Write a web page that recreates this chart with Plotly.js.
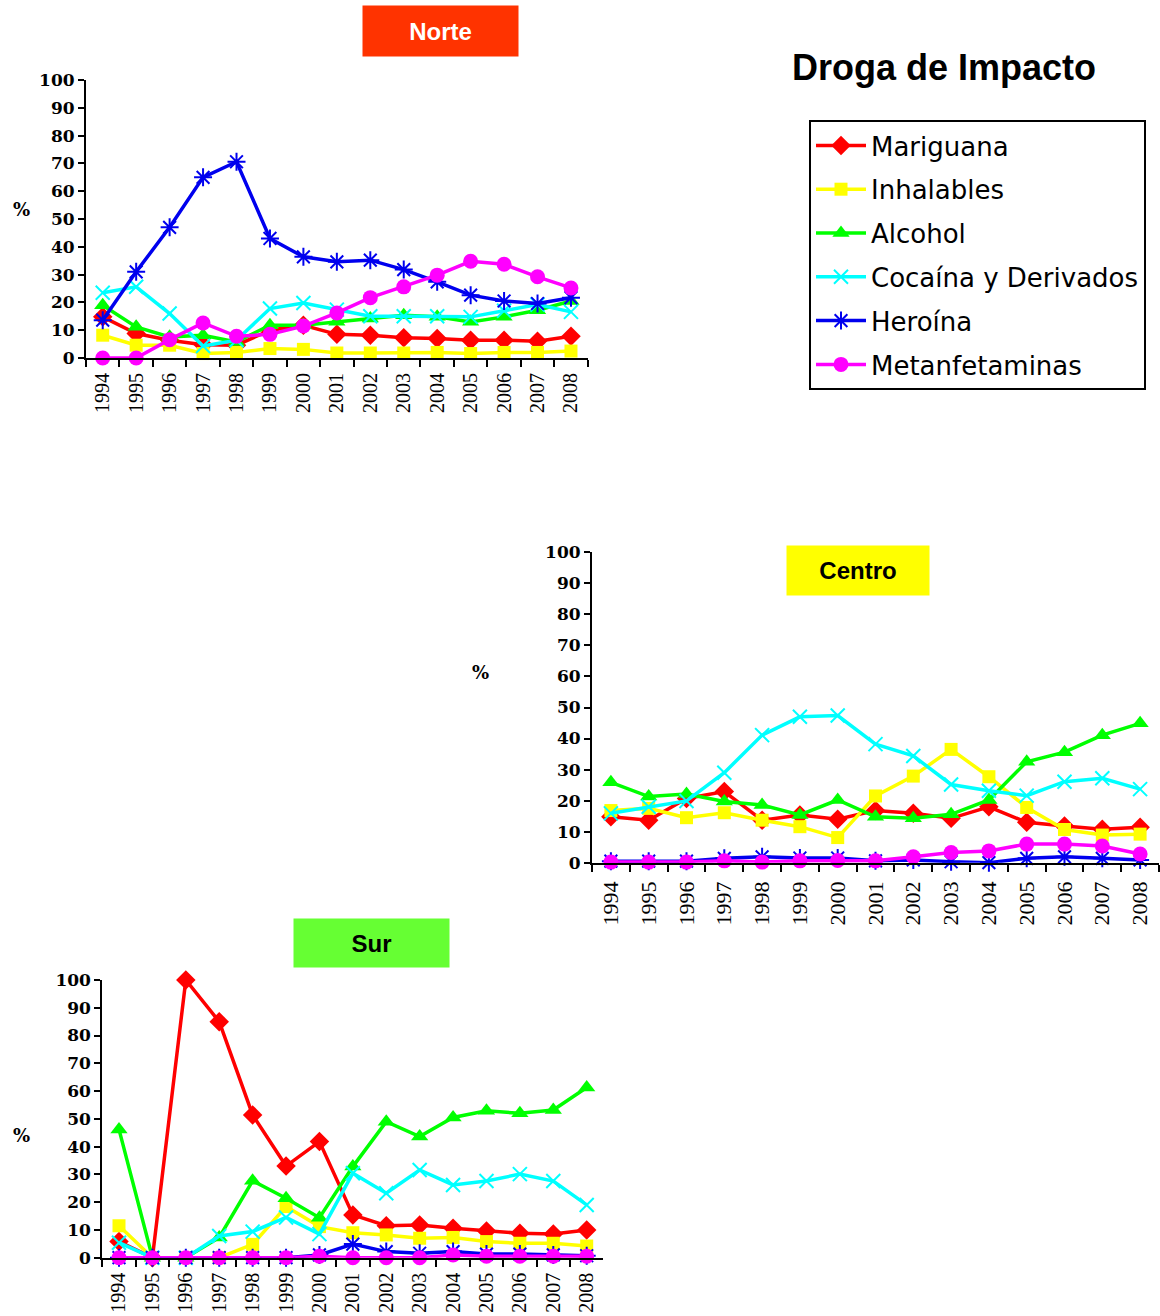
<!DOCTYPE html>
<html>
<head>
<meta charset="utf-8">
<script src="https://cdn.plot.ly/plotly-3.0.1.min.js"></script>
<style>html,body{margin:0;padding:0;background:#fff;}#chart{width:1160px;height:1316px;}</style>
</head>
<body>
<div id="chart"></div>
<script>
// ---------- DATA ----------
const years = ['1994','1995','1996','1997','1998','1999','2000','2001','2002','2003','2004','2005','2006','2007','2008'];
const drugs = ['Mariguana','Inhalables','Alcohol','Cocaína y Derivados','Heroína','Metanfetaminas'];

// Norte
const norteMariguana      = [14.8, 8.8, 6.4, 4.8, 4.6, 10.0, 11.8, 8.5, 8.2, 7.3, 7.0, 6.4, 6.4, 6.0, 7.8];
const norteInhalables     = [8.2, 4.6, 4.6, 1.6, 2.0, 3.4, 3.1, 1.8, 1.8, 1.8, 2.0, 1.6, 2.0, 2.0, 2.5];
const norteAlcohol        = [19.0, 11.2, 7.6, 8.2, 5.8, 11.8, 11.8, 13.0, 14.2, 15.4, 14.8, 13.0, 14.8, 17.2, 20.5];
const norteCocaina        = [23.5, 25.6, 16.0, 4.3, 6.4, 17.8, 19.8, 17.4, 15.0, 15.0, 15.0, 14.8, 17.0, 19.2, 16.6];
const norteHeroina        = [13.6, 31.0, 47.0, 65.0, 70.6, 43.0, 36.4, 34.6, 35.2, 31.8, 27.4, 22.6, 20.5, 19.6, 21.7];
const norteMetanfetaminas = [0.0, 0.0, 6.6, 12.6, 7.8, 8.5, 11.5, 16.2, 21.7, 25.6, 29.8, 34.8, 33.7, 29.2, 25.2];

// Centro
const centroMariguana      = [14.8, 13.7, 20.7, 22.9, 13.7, 15.4, 14.0, 16.8, 15.9, 14.3, 18.0, 13.0, 11.8, 10.8, 11.4];
const centroInhalables     = [16.8, 17.5, 14.5, 16.1, 13.7, 11.6, 8.1, 21.5, 27.9, 36.5, 27.7, 17.8, 10.7, 8.9, 9.2];
const centroAlcohol        = [25.9, 21.3, 22.1, 19.7, 18.6, 15.4, 20.2, 14.8, 14.3, 15.6, 20.2, 32.5, 35.6, 41.1, 44.9];
const centroCocaina        = [15.9, 18.0, 19.9, 29.0, 41.1, 47.0, 47.4, 38.2, 34.4, 25.2, 23.2, 21.6, 26.1, 27.2, 23.7];
const centroHeroina        = [0.5, 0.5, 0.5, 1.4, 1.9, 1.5, 1.5, 0.6, 0.9, 0.3, 0.0, 1.4, 1.9, 1.4, 0.9];
const centroMetanfetaminas = [0.2, 0.2, 0.2, 0.6, 0.2, 0.6, 0.7, 0.6, 1.9, 3.3, 3.8, 6.0, 6.0, 5.4, 2.8];

// Sur
const surMariguana      = [5.8, 0.0, 100.0, 85.0, 51.4, 33.0, 41.8, 15.4, 11.5, 11.8, 10.6, 9.6, 8.8, 8.5, 10.0];
const surInhalables     = [11.5, 0.0, 0.0, 0.0, 4.8, 18.4, 11.2, 9.0, 8.2, 7.0, 7.3, 5.8, 5.2, 5.2, 4.2];
const surAlcohol        = [46.2, 0.0, 0.0, 7.3, 27.7, 21.4, 14.4, 32.8, 49.0, 43.6, 50.5, 52.9, 52.0, 53.2, 61.3];
const surCocaina        = [5.4, 0.0, 0.0, 7.8, 9.4, 14.5, 8.5, 30.4, 23.2, 31.6, 26.2, 27.6, 30.1, 27.6, 19.0];
const surHeroina        = [0.0, 0.0, 0.0, 0.0, 0.0, 0.0, 1.0, 4.9, 2.2, 1.6, 2.2, 1.3, 1.3, 1.0, 0.7];
const surMetanfetaminas = [0.0, 0.0, 0.0, 0.0, 0.0, 0.0, 0.5, 0.0, 0.0, 0.0, 1.0, 0.5, 0.5, 0.5, 0.5];

const regionTitles = ['Norte','Centro','Sur'];
const mainTitle = 'Droga de Impacto';
const yUnit = '%';

// ---------- STYLES ----------
const styles = [
  {color:'#FF0000', symbol:'diamond', size:15, lw:0},
  {color:'#FFFF00', symbol:'square', size:13, lw:0},
  {color:'#00FF00', symbol:'triangle-up', size:15, lw:0},
  {color:'#00FFFF', symbol:'x-thin-open', size:14, lw:2},
  {color:'#0000EE', symbol:'asterisk-open', size:15, lw:2},
  {color:'#FF00FF', symbol:'circle', size:15, lw:0}
];

const regions = [
  {series:[norteMariguana,norteInhalables,norteAlcohol,norteCocaina,norteHeroina,norteMetanfetaminas], xa:'x', ya:'y'},
  {series:[centroMariguana,centroInhalables,centroAlcohol,centroCocaina,centroHeroina,centroMetanfetaminas], xa:'x2', ya:'y2'},
  {series:[surMariguana,surInhalables,surAlcohol,surCocaina,surHeroina,surMetanfetaminas], xa:'x3', ya:'y3'}
];

const traces = [];
regions.forEach((r, ri) => {
  r.series.forEach((vals, i) => {
    const s = styles[i];
    traces.push({
      type:'scatter', mode:'lines+markers',
      x: years, y: vals, xaxis: r.xa, yaxis: r.ya,
      name: drugs[i], legendgroup: drugs[i], showlegend: ri === 0,
      cliponaxis: false,
      line: {color: s.color, width: 3.5},
      marker: {color: s.color, symbol: s.symbol, size: s.size, line: {color: s.color, width: s.lw}}
    });
  });
});

const W = 1160, H = 1316;
const px = v => v / W;
const py = v => (H - v) / H;

function xAxis(d0, d1, anchor, fsize, standoff) {
  return {
    domain:[px(d0), px(d1)], anchor: anchor, type:'category', range:[-0.5, 14.5],
    tickson:'boundaries', ticks:'outside', ticklen:7, tickwidth:2, tickcolor:'#000',
    showline:true, linecolor:'#000', linewidth:2, showgrid:false, zeroline:false,
    tickangle:-90, ticklabelstandoff: standoff,
    tickfont:{family:'Liberation Serif, Times New Roman, serif', size:fsize, color:'#000'},
    fixedrange:true
  };
}
function yAxis(t, b, anchor) {
  return {
    domain:[py(b), py(t)], anchor: anchor, range:[0,100], dtick:10,
    ticks:'outside', ticklen:6, tickwidth:2, tickcolor:'#000',
    showline:true, linecolor:'#000', linewidth:2, showgrid:false, zeroline:false,
    tickfont:{family:'DejaVu Serif, serif', size:17, color:'#000', weight:'bold'},
    fixedrange:true
  };
}

const boxFont = 'Liberation Sans, Arial, sans-serif';
const layout = {
  width: W, height: H, margin:{l:0,r:0,t:0,b:0},
  paper_bgcolor:'#fff', plot_bgcolor:'rgba(0,0,0,0)',
  showlegend:true,
  legend:{
    x: px(809), y: py(120), xanchor:'left', yanchor:'top',
    bordercolor:'#000', borderwidth:2, bgcolor:'#fff',
    font:{family:'DejaVu Sans, sans-serif', size:26, color:'#000'},
    tracegroupgap: 7, itemwidth: 50
  },
  xaxis: xAxis(86, 587.7, 'y', 20, 5),
  yaxis: yAxis(80, 358, 'x'),
  xaxis2: xAxis(592, 1159, 'y2', 22, 8),
  yaxis2: yAxis(552.3, 862.7, 'x2'),
  xaxis3: xAxis(102.3, 603.4, 'y3', 20, 5),
  yaxis3: yAxis(980, 1257.7, 'x3'),
  annotations: [
    {text:'<b>'+regionTitles[0]+'</b>', xref:'paper', yref:'paper', x:px(440.5), y:py(31), xanchor:'center', yanchor:'middle',
     showarrow:false, width:155, height:50, borderpad:0, bgcolor:'#FF3300', font:{family:boxFont, size:24, color:'#fff'}},
    {text:'<b>'+regionTitles[1]+'</b>', xref:'paper', yref:'paper', x:px(858), y:py(570.5), xanchor:'center', yanchor:'middle',
     showarrow:false, width:142, height:49, borderpad:0, bgcolor:'#FFFF00', font:{family:boxFont, size:24, color:'#000'}},
    {text:'<b>'+regionTitles[2]+'</b>', xref:'paper', yref:'paper', x:px(371.5), y:py(943), xanchor:'center', yanchor:'middle',
     showarrow:false, width:155, height:48, borderpad:0, bgcolor:'#66FF33', font:{family:boxFont, size:24, color:'#000'}},
    {text:'<b>'+mainTitle+'</b>', xref:'paper', yref:'paper', x:px(790), y:py(68), xanchor:'left', yanchor:'middle',
     showarrow:false, font:{family:boxFont, size:36, color:'#000'}},
    {text:'<b>'+yUnit+'</b>', xref:'paper', yref:'paper', x:px(21), y:py(210), xanchor:'center', yanchor:'middle',
     showarrow:false, font:{family:'DejaVu Serif, serif', size:18, color:'#000'}},
    {text:'<b>'+yUnit+'</b>', xref:'paper', yref:'paper', x:px(480), y:py(672), xanchor:'center', yanchor:'middle',
     showarrow:false, font:{family:'DejaVu Serif, serif', size:18, color:'#000'}},
    {text:'<b>'+yUnit+'</b>', xref:'paper', yref:'paper', x:px(21), y:py(1135), xanchor:'center', yanchor:'middle',
     showarrow:false, font:{family:'DejaVu Serif, serif', size:18, color:'#000'}}
  ]
};

Plotly.newPlot('chart', traces, layout, {displayModeBar:false, staticPlot:true});
</script>
</body>
</html>
